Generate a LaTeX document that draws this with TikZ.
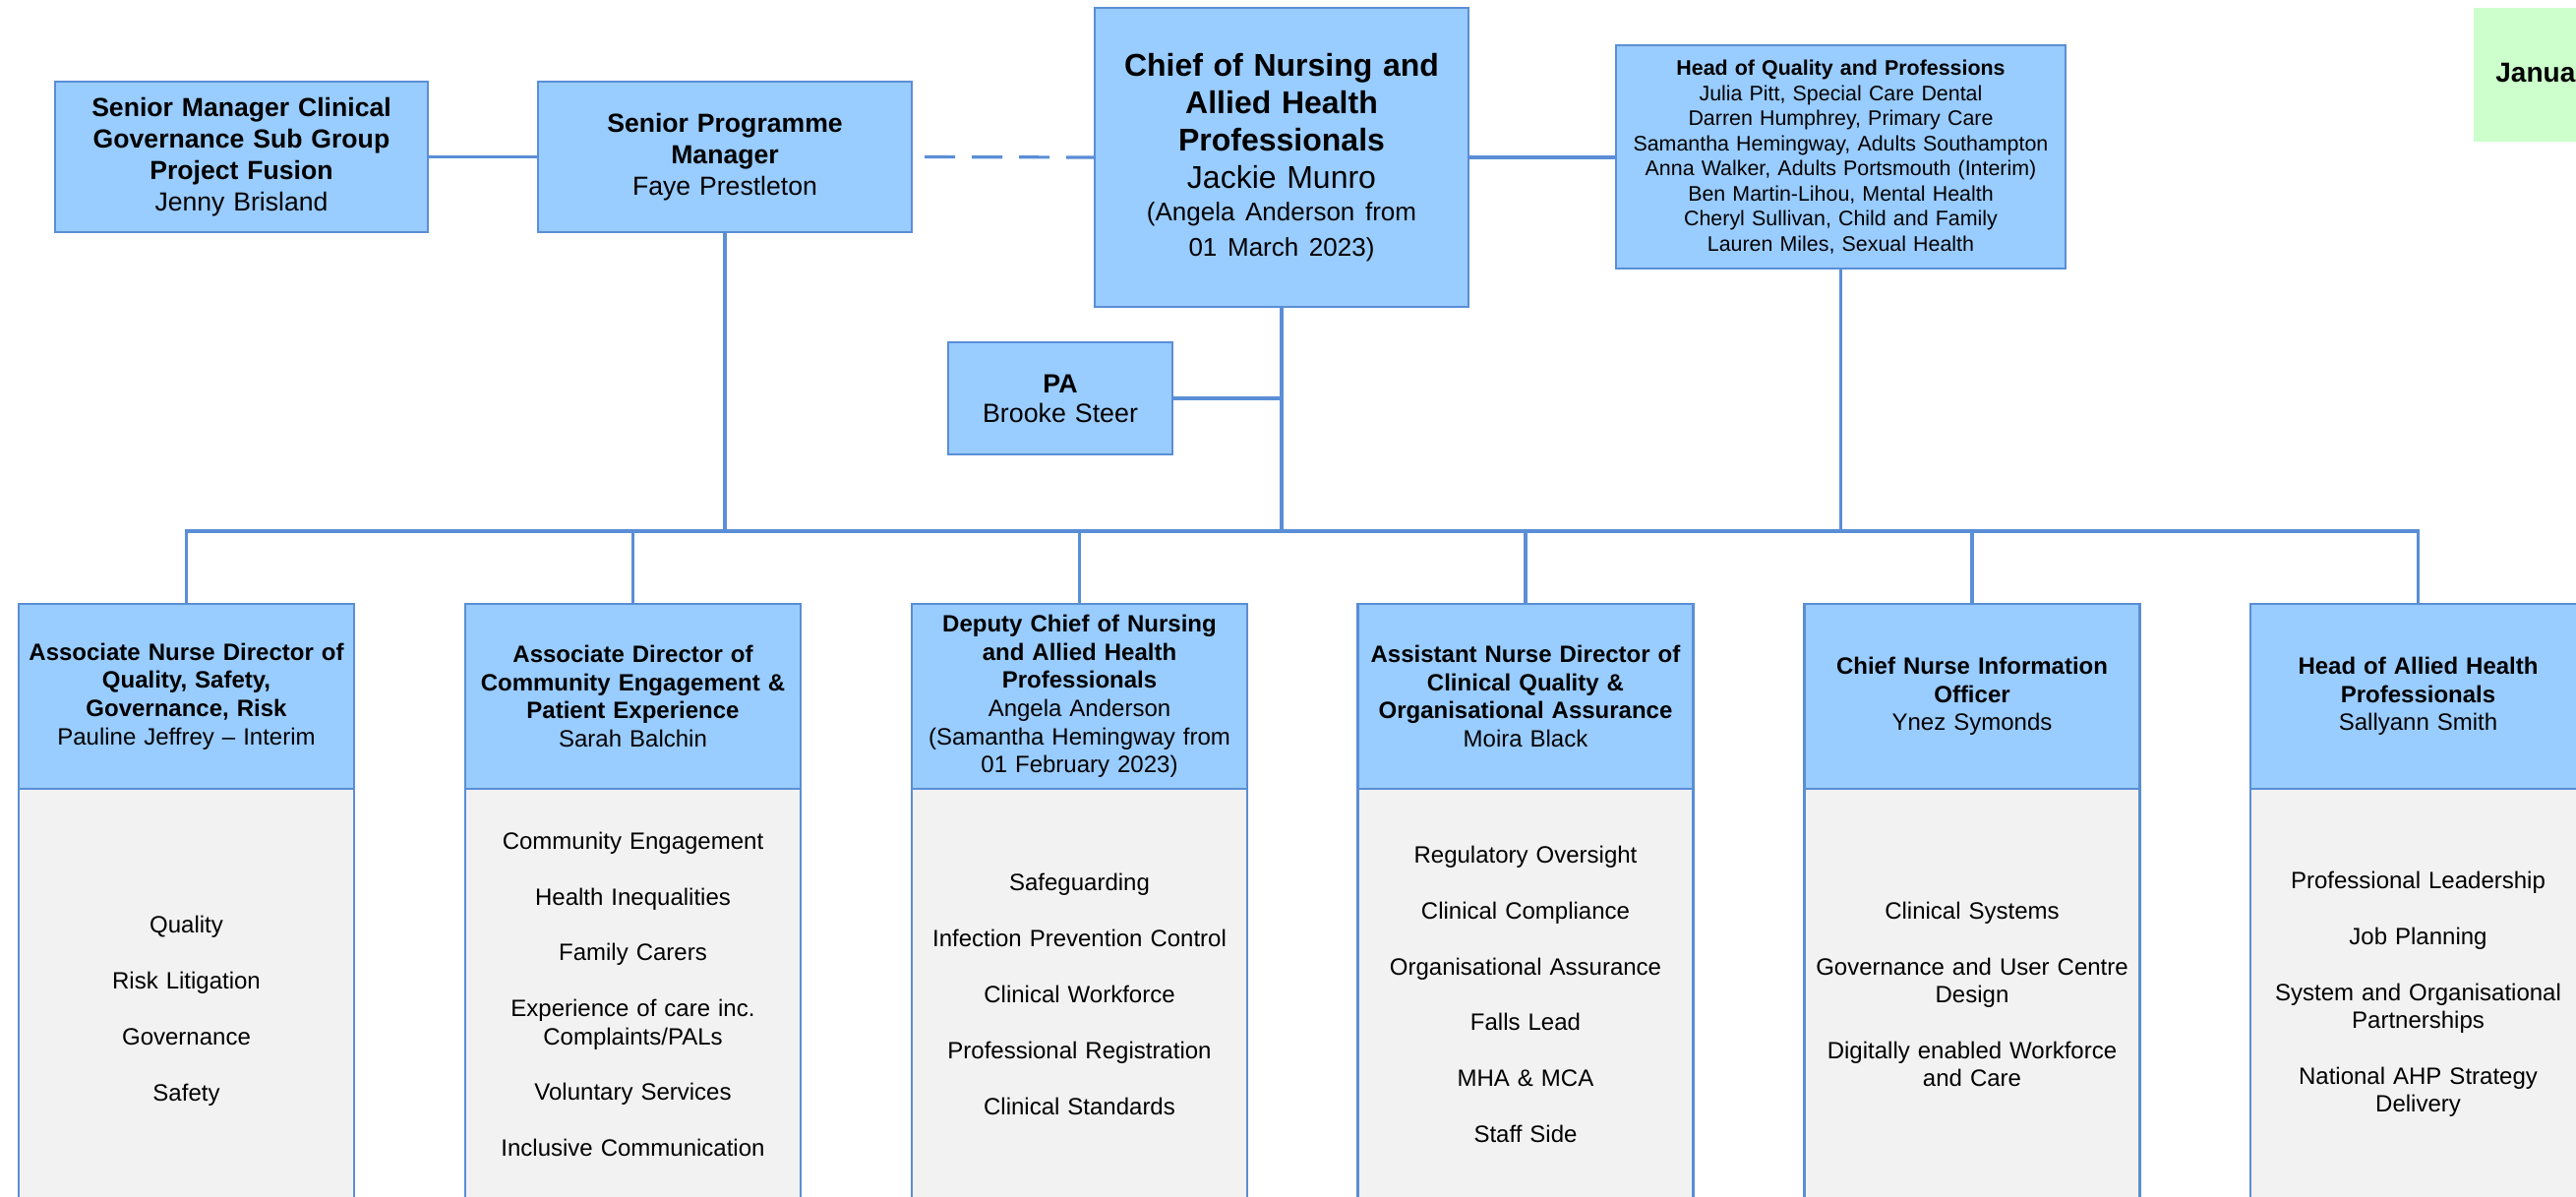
\documentclass[tikz,border=0pt]{standalone}
\usepackage{fontspec}
\setmainfont{Liberation Sans}
\usetikzlibrary{positioning}
\definecolor{linkblue}{HTML}{5A8ED6}
\definecolor{headblue}{HTML}{99CCFF}
\definecolor{bodygrey}{HTML}{F2F2F2}
\definecolor{notegreen}{HTML}{CCFFCC}
\begin{document}
\begin{tikzpicture}[x=0.5pt,y=-0.5pt,
	box/.style={draw=linkblue,line width=1.3pt,fill=headblue,outer sep=0pt,inner sep=0pt,align=center},
	topbox/.style={box,text width=185pt,minimum width=190pt,minimum height=76.5pt,font=\fontsize{13.3}{15.9}\selectfont},
	headbox/.style={box,text width=168pt,minimum width=170.5pt,minimum height=94pt,font=\fontsize{12}{14.3}\selectfont},
	bodybox/.style={box,fill=bodygrey,text width=168pt,minimum width=170.5pt,minimum height=209pt,font=\fontsize{12}{14.2}\selectfont},
	link/.style={draw=linkblue,line width=1.6pt}]
	\useasboundingbox (0,0) rectangle (2619,1216);
	\clip (0,0) rectangle (2619,1216);
			\node[topbox,minimum width=189.5pt](smcg) at (245.5,159.5)
			{{\bfseries Senior Manager Clinical\\Governance Sub Group\\Project Fusion}\\Jenny Brisland};
			\node[topbox](spm) at (737,159.5)
			{{\bfseries Senior Programme\\Manager}\\Faye Prestleton};
			\node[box,text width=186pt,minimum width=190pt,minimum height=152pt,
				font=\fontsize{16}{19}\selectfont](chief) at (1303,160)
			{{\bfseries Chief of Nursing and\\Allied Health\\Professionals}\\Jackie Munro\\[-1.5pt]{\fontsize{13}{18}\selectfont (Angela Anderson from\\[-0.7pt]01 March 2023)}};
			\node[box,text width=224pt,minimum width=228.5pt,minimum height=113.5pt,
				font=\fontsize{10.7}{12.75}\selectfont](hqp) at (1871.5,159.5)
			{{\bfseries Head of Quality and Professions}\\Julia Pitt, Special Care Dental\\Darren Humphrey, Primary Care\\Samantha Hemingway, Adults Southampton\\Anna Walker, Adults Portsmouth (Interim)\\Ben Martin-Lihou, Mental Health\\Cheryl Sullivan, Child and Family\\Lauren Miles, Sexual Health};
			\node[box,text width=110pt,minimum width=114pt,minimum height=57pt,
				font=\fontsize{13.4}{15}\selectfont](pa) at (1078,405)
			{{\bfseries PA}\\Brooke Steer};
			\node[fill=notegreen,inner xsep=11pt,inner ysep=0pt,text width=100pt,minimum height=68pt,
				anchor=north west,align=left,font=\fontsize{14}{16}\selectfont\bfseries](month) at (2515,8)
			{January 2023};
			\node[headbox](hd1) at (189.5,708)
			{{\bfseries Associate Nurse Director of\\Quality, Safety,\\Governance, Risk}\\Pauline Jeffrey -- Interim};
			\node[bodybox,below=0pt of hd1](bd1)
			{\rule{0pt}{25.5pt}Quality\\[14.2pt]Risk Litigation\\[14.2pt]Governance\\[14.2pt]Safety};
			\node[headbox](hd2) at (643.5,708)
			{{\bfseries Associate Director of\\Community Engagement \&\\Patient Experience}\\Sarah Balchin};
			\node[bodybox,below=0pt of hd2](bd2)
			{Community Engagement\\[14.2pt]Health Inequalities\\[14.2pt]Family Carers\\[14.2pt]Experience of care inc.\\Complaints/PALs\\[14.2pt]Voluntary Services\\[14.2pt]Inclusive Communication};
			\node[headbox](hd3) at (1097.5,708)
			{{\bfseries Deputy Chief of Nursing\\and Allied Health\\Professionals}\\Angela Anderson\\(Samantha Hemingway from\\01 February 2023)};
			\node[bodybox,below=0pt of hd3](bd3)
			{Safeguarding\\[14.2pt]Infection Prevention Control\\[14.2pt]Clinical Workforce\\[14.2pt]Professional Registration\\[14.2pt]Clinical Standards};
			\node[headbox](hd4) at (1551,708)
			{{\bfseries Assistant Nurse Director of\\Clinical Quality \&\\Organisational Assurance}\\Moira Black};
			\node[bodybox,below=0pt of hd4](bd4)
			{Regulatory Oversight\\[14.2pt]Clinical Compliance\\[14.2pt]Organisational Assurance\\[14.2pt]Falls Lead\\[14.2pt]MHA \& MCA\\[14.2pt]Staff Side};
			\node[headbox](hd5) at (2005,708)
			{{\bfseries Chief Nurse Information\\Officer}\\Ynez Symonds};
			\node[bodybox,below=0pt of hd5](bd5)
			{Clinical Systems\\[14.2pt]Governance and User Centre\\Design\\[14.2pt]Digitally enabled Workforce\\and Care};
			\node[headbox](hd6) at (2458.5,708)
			{{\bfseries Head of Allied Health\\Professionals}\\Sallyann Smith};
			\node[bodybox,below=0pt of hd6](bd6)
			{Professional Leadership\\[14.2pt]Job Planning\\[14.2pt]System and Organisational\\Partnerships\\[14.2pt]National AHP Strategy\\Delivery};
			\coordinate (bus) at (0,540);
			\draw[link] (smcg.east) -- (spm.west);
			\draw[link,dash pattern=on 15.5pt off 8.5pt,dash phase=17.5pt] (spm.east) -- (chief.west);
			\draw[link] (chief.east) -- (chief.east -| hqp.west);
			\draw[link] (chief.south) -- (chief.south |- bus);
			\draw[link] (pa.east) -- (pa.east -| chief.south);
			\draw[link] (spm.south) -- (spm.south |- bus);
			\draw[link] (hqp.south) -- (hqp.south |- bus);
			\draw[link] (hd1.north) -- (hd1.north |- bus) -- (hd6.north |- bus) -- (hd6.north);
			\draw[link] (hd2.north) -- (hd2.north |- bus);
			\draw[link] (hd3.north) -- (hd3.north |- bus);
			\draw[link] (hd4.north) -- (hd4.north |- bus);
			\draw[link] (hd5.north) -- (hd5.north |- bus);
\end{tikzpicture}
\end{document}
